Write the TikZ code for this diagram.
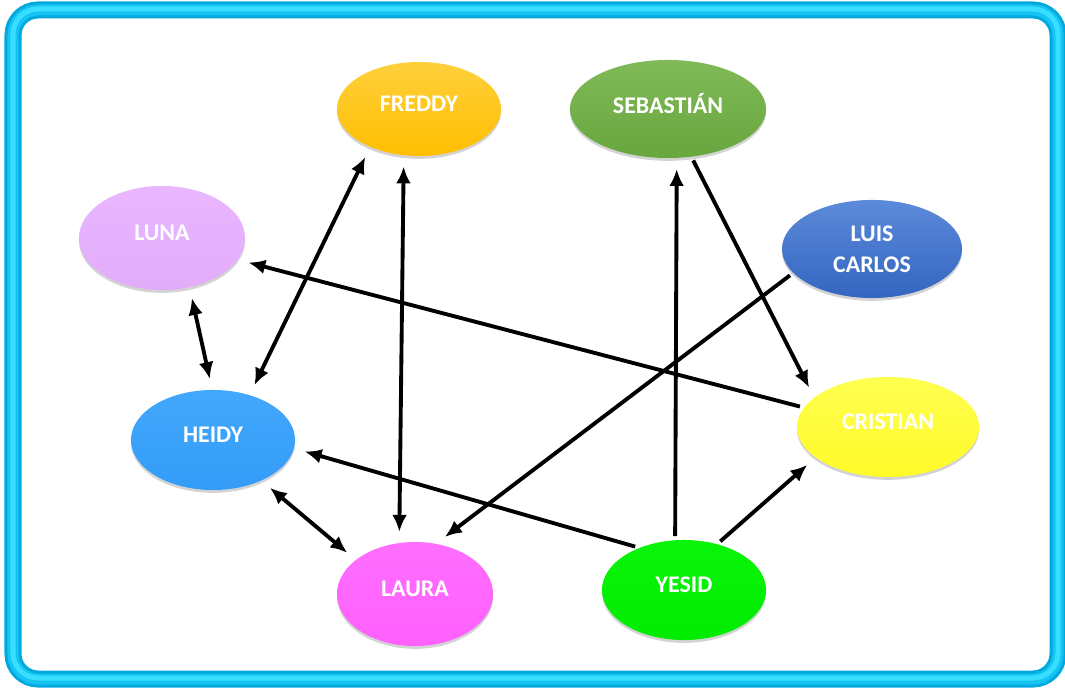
\documentclass[tikz,border=0pt]{standalone}
\usepackage{fontspec}
\setmainfont{Carlito}
\usetikzlibrary{arrows.meta,shapes.geometric,shadows}

\definecolor{frameout}{RGB}{0,168,222}
\definecolor{framemid}{RGB}{22,196,242}
\definecolor{framein}{RGB}{56,222,255}

\begin{document}
\begin{tikzpicture}[x=0.01cm, y=-0.01cm,
    person/.style={ellipse, inner sep=0pt, align=center, text=white,
        font=\fontsize{6.8}{9}\selectfont\bfseries, text depth=3.2pt,
        drop shadow={shadow xshift=0pt, shadow yshift=-0.8pt, opacity=0.35}},
    link/.style={line width=1.1pt, shorten >=3pt, shorten <=1pt,
        -{Latex[length=4.8pt,width=4.2pt]}},
    both/.style={link, shorten <=3pt, {Latex[length=4.8pt,width=4.2pt]}-{Latex[length=4.8pt,width=4.2pt]}}]
    \useasboundingbox (0,0) rectangle (1065,689);

    % Frame
    \draw[line width=0.17cm, frameout, rounded corners=0.25cm] (13,10) rectangle (1058,679);
    \draw[line width=0.11cm, framemid, rounded corners=0.25cm] (13,10) rectangle (1058,679);
    \draw[line width=0.05cm, framein, rounded corners=0.25cm] (13,9) rectangle (1058,678);

    \node[person, minimum width=1.64cm, minimum height=0.94cm,
        top color={rgb,255:red,255;green,208;blue,60}, bottom color={rgb,255:red,255;green,190;blue,0}]
        (Freddy) at (419,109) {FREDDY};
    \node[person, minimum width=1.96cm, minimum height=0.98cm,
        top color={rgb,255:red,128;green,186;blue,88}, bottom color={rgb,255:red,104;green,166;blue,62}]
        (Sebastian) at (668,109) {SEBASTIÁN};
    \node[person, minimum width=1.66cm, minimum height=1.04cm,
        top color={rgb,255:red,234;green,182;blue,255}, bottom color={rgb,255:red,226;green,172;blue,250}]
        (Luna) at (162,238) {LUNA};
    \node[person, minimum width=1.80cm, minimum height=0.98cm, text depth=0pt,
        top color={rgb,255:red,92;green,138;blue,218}, bottom color={rgb,255:red,52;green,102;blue,192}]
        (LuisCarlos) at (872,249) {LUIS\\CARLOS};
    \node[person, minimum width=1.64cm, minimum height=1.00cm,
        top color={rgb,255:red,66;green,168;blue,252}, bottom color={rgb,255:red,52;green,156;blue,248}]
        (Heidy) at (213,440) {HEIDY};
    \node[person, minimum width=1.82cm, minimum height=1.00cm,
        top color={rgb,255:red,255;green,255;blue,80}, bottom color={rgb,255:red,255;green,250;blue,40}]
        (Cristian) at (888,427) {CRISTIAN};
    \node[person, minimum width=1.56cm, minimum height=1.04cm,
        top color={rgb,255:red,255;green,110;blue,255}, bottom color={rgb,255:red,255;green,96;blue,252}]
        (Laura) at (415,594) {LAURA};
    \node[person, minimum width=1.64cm, minimum height=1.00cm,
        top color={rgb,255:red,10;green,244;blue,10}, bottom color={rgb,255:red,0;green,236;blue,0}]
        (Yesid) at (684,590) {YESID};

    \foreach \from/\a/\to/\b in {Luna/-61/Heidy/91, Heidy/51/Freddy/218,
        Freddy/252/Laura/107, Heidy/-40/Laura/150}
        \draw[both] (\from.\a) -- (\to.\b);

    \foreach \from/\a/\to/\b in {Cristian/167/Luna/-16, Yesid/137/Heidy/-6,
        Yesid/100/Sebastian/-80, Yesid/54/Cristian/203, Sebastian/-64/Cristian/158,
        LuisCarlos/197/Laura/67}
        \draw[link] (\from.\a) -- (\to.\b);
\end{tikzpicture}
\end{document}
